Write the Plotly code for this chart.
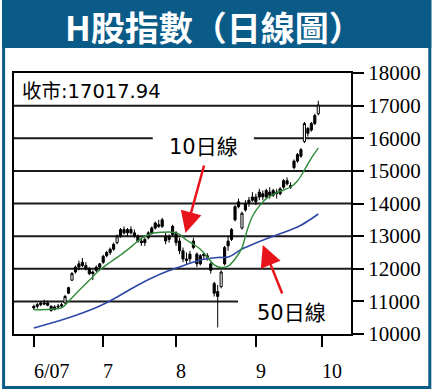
import plotly.graph_objects as go
import pandas as pd

# ---------------- data ----------------
holidays = ["2007-06-19", "2007-07-02", "2007-09-26"]
dates = [d.strftime("%Y-%m-%d") for d in pd.bdate_range("2007-06-01", "2007-09-28")
         if d.strftime("%Y-%m-%d") not in holidays]

open_ = [10850, 10900, 10950, 10950, 10950, 10850, 10830, 10860, 10900, 10950,
         11420, 11650, 12050, 12150, 12200, 12100, 12000, 11900, 12050, 12150,
         12380, 12500, 12600, 12750, 12800, 13200, 13200, 13200, 13200, 13100,
         13000, 12850, 12900, 13100, 13250, 13400, 13350, 13500, 13000, 13000,
         13300, 13100, 12850, 12550, 12300, 12450, 12850, 12450, 12400, 12450,
         12400, 12150, 11550, 11300, 11450, 12650, 12850, 13200, 13900, 14050,
         13250, 14000, 14100, 14200, 14200, 14350, 14300, 14400, 14350, 14400,
         14350, 14450, 14700, 14700, 14550, 15300, 15500, 15650, 15900, 16300,
         16450, 16700, 16750]
high = [10900, 10950, 11000, 11050, 11020, 10880, 10880, 10920, 10950, 11200,
        11450, 11900, 12100, 12250, 12330, 12200, 12050, 11950, 12100, 12180,
        12430, 12550, 12650, 12800, 13050, 13250, 13300, 13250, 13300, 13200,
        13050, 12950, 12950, 13150, 13300, 13450, 13500, 13560, 13100, 13050,
        13350, 13150, 12950, 12650, 12500, 12550, 12950, 12500, 12450, 12500,
        12480, 12200, 11600, 11500, 11950, 12700, 13000, 13250, 13950, 14150,
        13750, 14100, 14200, 14350, 14300, 14450, 14400, 14450, 14500, 14450,
        14450, 14500, 14750, 14800, 14650, 15350, 15550, 15700, 16500, 16350,
        16500, 16750, 17150]
low = [10740, 10780, 10850, 10880, 10850, 10680, 10720, 10780, 10800, 10920,
       11230, 11620, 11850, 11950, 12050, 11950, 11800, 11650, 11900, 11980,
       12150, 12350, 12420, 12550, 12750, 12950, 13050, 13000, 13050, 12950,
       12800, 12700, 12700, 12900, 13050, 13200, 13250, 13250, 12750, 12800,
       13000, 12700, 12450, 12200, 12150, 12200, 12600, 12050, 12100, 12300,
       12250, 11850, 11150, 10200, 11400, 12100, 12550, 12850, 13450, 13850,
       13200, 13750, 13900, 14050, 13950, 14100, 14100, 14150, 14150, 14200,
       14150, 14250, 14450, 14550, 14450, 15050, 15250, 15400, 15850, 16050,
       16200, 16400, 16700]
close = [10800, 10850, 10900, 10920, 10880, 10720, 10750, 10830, 10860, 11150,
         11250, 11850, 11900, 12050, 12100, 12000, 11850, 11850, 11950, 12050,
         12200, 12400, 12500, 12600, 13000, 13000, 13100, 13100, 13100, 13000,
         12850, 12800, 12800, 12950, 13100, 13250, 13300, 13300, 12850, 12900,
         13050, 12800, 12550, 12300, 12250, 12300, 12650, 12150, 12150, 12400,
         12350, 11950, 11250, 11150, 11900, 12150, 12700, 12900, 13500, 13900,
         13700, 13800, 14000, 14100, 14050, 14200, 14200, 14200, 14250, 14250,
         14300, 14300, 14500, 14600, 14500, 15100, 15300, 15450, 16450, 16150,
         16250, 16450, 17017.94]

# 10-day moving average, read at selected trading days
ma10_day = [0, 5, 8, 10, 13, 16, 19, 22, 25, 28, 31, 34, 37, 40, 42, 44, 46, 48, 50,
            52, 54, 56, 58, 60, 61, 62, 63, 64, 65, 67, 70, 72, 74, 76, 78, 80, 82]
ma10_val = [10740, 10760, 10800, 11000, 11330, 11650, 11960, 12200, 12420, 12670,
            12930, 13080, 13120, 13120, 13050, 12880, 12750, 12600, 12360, 12120,
            12040, 12080, 12300, 12640, 13000, 13340, 13600, 13780, 13920, 14150,
            14330, 14414, 14505, 14690, 15027, 15394, 15700]

# 50-day moving average, read at selected trading days
ma50_day = [0, 8, 14, 19, 24, 29, 34, 39, 44, 48, 53, 56, 60, 64, 68, 72, 76, 79, 82]
ma50_val = [10184, 10429, 10644, 10858, 11134, 11441, 11716, 11946, 12130, 12268,
            12345, 12360, 12605, 12789, 12958, 13111, 13280, 13463, 13678]

y_ticks = [10000, 11000, 12000, 13000, 14000, 15000, 16000, 17000, 18000]
month_labels = ["6/07", "7", "8", "9", "10"]
title_text = "H股指數（日線圖）"
close_label = "收市:17017.94"

# ---------------- geometry helpers ----------------
W, H = 433, 389
L, R, T, B = 12, 352, 73, 334


def px(x):
    return (x - L) / (R - L)


def py(y):
    return (B - y) / (B - T)


day = list(range(len(dates)))
month_idx = [next(i for i, d in enumerate(dates) if d[5:7] == m)
             for m in ["06", "07", "08", "09"]] + [len(dates)]

BLUE = "#0a5b88"
RED = "#e8141c"
SANS = "DejaVu Sans, Noto Sans CJK TC"

fig = go.Figure()
fig.add_trace(go.Scatter(x=ma50_day, y=ma50_val, mode="lines",
                         line=dict(color="#2d48a6", width=1.6, shape="spline"),
                         hoverinfo="skip"))
fig.add_trace(go.Scatter(x=ma10_day, y=ma10_val, mode="lines",
                         line=dict(color="#2f8a3a", width=1.4, shape="spline"),
                         hoverinfo="skip"))
fig.add_trace(go.Candlestick(
    x=day, open=open_, high=high, low=low, close=close, text=dates,
    increasing=dict(line=dict(color="black", width=1), fillcolor="white"),
    decreasing=dict(line=dict(color="black", width=1), fillcolor="black"),
    whiskerwidth=0,
))

shapes = []
# frame + title band
shapes.append(dict(type="rect", xref="paper", yref="paper",
                   x0=px(0), x1=px(W), y0=py(0), y1=py(48),
                   fillcolor=BLUE, line=dict(width=0), layer="below"))
shapes.append(dict(type="rect", xref="paper", yref="paper",
                   x0=px(1.5), x1=px(W - 1.5), y0=py(1.5), y1=py(H - 1.5),
                   line=dict(color=BLUE, width=3), fillcolor="rgba(0,0,0,0)"))

# horizontal grid lines (some broken by labels)
gl = dict(color="#1a1a1a", width=2)
for v in y_ticks[1:-1]:
    if v == 16000:
        segs = [(0, px(152)), (px(254), 1)]
    elif v == 11000:
        segs = [(0, px(238))]
    else:
        segs = [(0, 1)]
    for a, b in segs:
        shapes.append(dict(type="line", xref="paper", yref="y", x0=a, x1=b,
                           y0=v, y1=v, line=gl, layer="below"))

annotations = [
    dict(text=f"<b>{title_text}</b>", xref="paper", yref="paper",
         x=px(214), y=py(26), xanchor="center", yanchor="middle", showarrow=False,
         font=dict(family="Noto Sans CJK TC", size=34, color="white")),
    dict(text=close_label, xref="paper", yref="paper", x=px(18), y=py(91),
         xanchor="left", yanchor="middle", showarrow=False,
         font=dict(family=SANS, size=19.5, color="black")),
    dict(text="10日線", xref="paper", yref="paper", x=px(166), y=py(147),
         xanchor="left", yanchor="middle", showarrow=False,
         font=dict(family=SANS, size=21, color="black")),
    dict(text="50日線", xref="paper", yref="paper", x=px(255), y=py(313),
         xanchor="left", yanchor="middle", showarrow=False,
         font=dict(family=SANS, size=21, color="black")),
    dict(text="", xref="paper", yref="paper", x=px(185), y=py(233),
         ax=19, ay=-69, showarrow=True, arrowhead=2, arrowsize=1.7,
         arrowwidth=2.5, arrowcolor=RED),
    dict(text="", xref="paper", yref="paper", x=px(263), y=py(245),
         ax=20, ay=50, showarrow=True, arrowhead=2, arrowsize=1.7,
         arrowwidth=2.5, arrowcolor=RED),
]
for idx, lab in zip(month_idx, month_labels):
    annotations.append(dict(text=lab, xref="x", yref="paper", x=idx, y=py(371),
                            xanchor="left", yanchor="middle", showarrow=False,
                            xshift=-2,
                            font=dict(family="Liberation Serif", size=20, color="black")))

fig.update_layout(
    width=W, height=H, autosize=False,
    margin=dict(l=L, r=W - R, t=T, b=H - B, pad=0),
    paper_bgcolor="white", plot_bgcolor="white",
    showlegend=False, boxgap=0.12,
    shapes=shapes, annotations=annotations,
    xaxis=dict(range=[(12 - 32) / 3.5, (352 - 32) / 3.5], showgrid=False, zeroline=False,
               showline=True, mirror=True, linecolor="black", linewidth=2,
               tickmode="array", tickvals=month_idx, showticklabels=False,
               ticks="outside", ticklen=11, tickwidth=2, tickcolor="black",
               rangeslider=dict(visible=False), fixedrange=True),
    yaxis=dict(range=[10000, 18000], side="right", showgrid=False, zeroline=False,
               showline=True, mirror=True, linecolor="black", linewidth=2,
               tickmode="array", tickvals=y_ticks, ticktext=[str(v) for v in y_ticks],
               ticks="outside", ticklen=11, tickwidth=2, tickcolor="black",
               tickfont=dict(family="Liberation Serif", size=21, color="black"),
               fixedrange=True),
)

fig.write_html("out.html", config={"displayModeBar": False},
               post_script="document.body.style.margin='0px';")
